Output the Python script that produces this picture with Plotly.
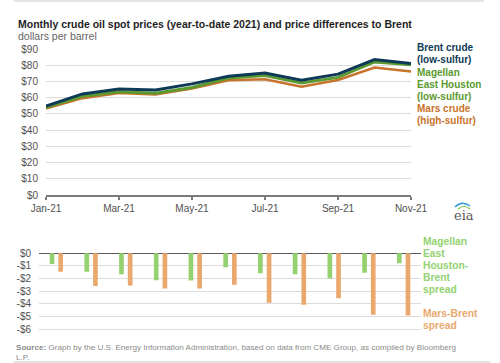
import plotly.graph_objects as go

months = ["Jan-21", "Feb-21", "Mar-21", "Apr-21", "May-21", "Jun-21",
          "Jul-21", "Aug-21", "Sep-21", "Oct-21", "Nov-21"]
brent = [54.8, 62.3, 65.4, 64.8, 68.5, 73.2, 75.2, 70.8, 74.5, 83.5, 81.1]
meh = [54.0, 60.8, 63.7, 62.7, 66.3, 72.1, 73.6, 69.1, 72.5, 82.0, 80.3]
mars = [53.3, 59.7, 62.9, 62.0, 65.7, 70.7, 71.3, 66.7, 70.9, 78.6, 76.2]
meh_spread = [-0.85, -1.46, -1.67, -2.13, -2.16, -1.10, -1.59, -1.67, -1.98, -1.54, -0.79]
mars_spread = [-1.46, -2.60, -2.55, -2.80, -2.80, -2.50, -3.92, -4.08, -3.57, -4.87, -4.92]

top_tickvals = [0, 10, 20, 30, 40, 50, 60, 70, 80, 90]
top_ticktext = ["$0", "$10", "$20", "$30", "$40", "$50", "$60", "$70", "$80", "$90"]
bot_tickvals = [0, -1, -2, -3, -4, -5, -6]
bot_ticktext = ["$0", "-$1", "-$2", "-$3", "-$4", "-$5", "-$6"]
x_ticks = months[::2]

C_BRENT = "#0f3a57"
C_MEH = "#5b9a30"
C_MARS = "#c8732b"
C_MEH_L = "#93d26f"
C_MARS_L = "#e9a86d"
FONT = "Liberation Sans, Arial, sans-serif"

W, H = 500, 363

def px_x(p):
    return p / W

def px_y(p):
    return 1 - p / H

fig = go.Figure()
fig.add_trace(go.Scatter(x=months, y=mars, mode="lines", line=dict(color=C_MARS, width=2.5),
                         xaxis="x", yaxis="y", name="Mars"))
fig.add_trace(go.Scatter(x=months, y=meh, mode="lines", line=dict(color=C_MEH, width=3),
                         xaxis="x", yaxis="y", name="MEH"))
fig.add_trace(go.Scatter(x=months, y=brent, mode="lines", line=dict(color=C_BRENT, width=3),
                         xaxis="x", yaxis="y", name="Brent"))
fig.add_trace(go.Bar(x=months, y=meh_spread, marker=dict(color=C_MEH_L, line=dict(width=0)),
                     xaxis="x2", yaxis="y2", name="MEH-Brent"))
fig.add_trace(go.Bar(x=months, y=mars_spread, marker=dict(color=C_MARS_L, line=dict(width=0)),
                     xaxis="x2", yaxis="y2", name="Mars-Brent"))

tickfont = dict(family=FONT, size=10, color="#505050")

fig.update_layout(
    width=W, height=H, autosize=False,
    margin=dict(l=0, r=0, t=0, b=0, autoexpand=False),
    paper_bgcolor="white", plot_bgcolor="white",
    showlegend=False,
    barmode="group", bargap=0.5, bargroupgap=0.46,
    xaxis=dict(type="category", categoryorder="array", categoryarray=months,
               range=[0, 10], domain=[px_x(46), px_x(411)], automargin=False,
               tickvals=x_ticks, ticktext=x_ticks, tickfont=tickfont,
               showgrid=False, showline=True, linecolor="#7a7a7a", linewidth=1.5,
               ticks="outside", ticklen=3, tickcolor="#7a7a7a", tickwidth=1.5,
               anchor="y", fixedrange=True),
    yaxis=dict(range=[0, 90.5], domain=[px_y(195), px_y(48.2)], automargin=False,
               tickvals=top_tickvals, ticktext=top_ticktext, tickfont=tickfont,
               showgrid=True, gridcolor="#dcdcdc", gridwidth=1, zeroline=False,
               showline=False, ticks="", ticklabelstandoff=7, anchor="x"),
    xaxis2=dict(type="category", categoryorder="array", categoryarray=months,
                range=[-0.5, 10.5], domain=[px_x(39), px_x(421)], automargin=False,
                showticklabels=False, showgrid=False, showline=False, ticks="",
                anchor="y2"),
    yaxis2=dict(range=[-6.1, 0.1], domain=[px_y(330.3), px_y(252.0)], automargin=False,
                tickvals=bot_tickvals, ticktext=bot_ticktext, tickfont=tickfont,
                showgrid=True, gridcolor="#dcdcdc", gridwidth=1,
                zeroline=True, zerolinecolor="#595959", zerolinewidth=1.5,
                showline=False, ticks="", ticklabelstandoff=7, anchor="x2"),
)

def ann(text, x, y, color, size=10, bold=False, xanchor="left", family=FONT):
    if bold:
        text = "<b>" + text + "</b>"
    fig.add_annotation(text=text, xref="paper", yref="paper", x=px_x(x), y=px_y(y),
                       xanchor=xanchor, yanchor="middle", showarrow=False, align="left",
                       font=dict(family=family, size=size, color=color))

def ann_lines(lines, x, y0, step, color, size=10, bold=True):
    for i, line in enumerate(lines):
        ann(line, x, y0 + i * step, color, size=size, bold=bold)

ann("Monthly crude oil spot prices (year-to-date 2021) and price differences to Brent",
    16, 24.5, "#1e1e1e", size=10.5, bold=True)
ann("dollars per barrel", 16, 36.5, "#666666", size=10.5)

ann_lines(["Brent crude", "(low-sulfur)"], 415, 47.5, 12.3, C_BRENT)
ann_lines(["Magellan", "East Houston", "(low-sulfur)"], 415, 72, 12.1, C_MEH)
ann_lines(["Mars crude", "(high-sulfur)"], 415, 108, 12.2, C_MARS)

ann_lines(["Magellan", "East", "Houston-", "Brent", "spread"], 421, 241, 12.1, C_MEH_L, size=10.3)
ann_lines(["Mars-Brent", "spread"], 421, 313, 12.1, C_MARS_L, size=10.3)

ann("<b>Source:</b> Graph by the U.S. Energy Information Administration, based on data from CME Group, as compiled by Bloomberg",
    14, 347.7, "#8a8a8a", size=8.1)
ann("L.P.", 14, 357.2, "#8a8a8a", size=8.1)

# eia logo (text + arc)
ann("eia", 452, 215, "#5a5a5a", size=13, family="DejaVu Serif, serif")
fig.add_shape(type="path", xref="paper", yref="paper",
              path=f"M {px_x(455)} {px_y(207)} Q {px_x(462)} {px_y(200)} {px_x(470)} {px_y(206)}",
              line=dict(color="#2f9ad6", width=1.5))
fig.add_shape(type="path", xref="paper", yref="paper",
              path=f"M {px_x(458)} {px_y(209)} Q {px_x(464)} {px_y(204)} {px_x(470)} {px_y(209)}",
              line=dict(color="#7cc242", width=1.2))

# frame lines
fig.add_shape(type="line", xref="paper", yref="paper", x0=px_x(14), x1=px_x(484),
              y0=px_y(1), y1=px_y(1), line=dict(color="#e4e4e4", width=2))
fig.add_shape(type="line", xref="paper", yref="paper", x0=px_x(14), x1=px_x(490),
              y0=px_y(362), y1=px_y(362), line=dict(color="#e4e4e4", width=2))

fig.write_html("out.html",
               config={"displayModeBar": False, "staticPlot": True},
               post_script="document.body.style.margin='0';document.body.style.overflow='hidden';")
